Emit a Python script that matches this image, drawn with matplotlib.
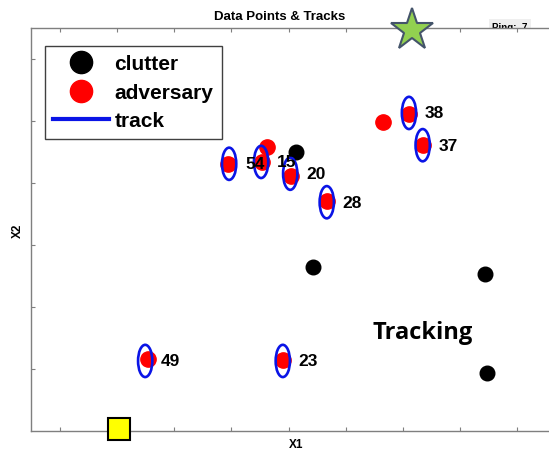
import numpy as np
import matplotlib.pyplot as plt
from matplotlib.patches import Ellipse
from matplotlib.lines import Line2D

# clutter points
clutter_x = [5.13, 5.43, 8.44, 8.47]
clutter_y = [4.50, 2.65, 2.53, 0.94]

# adversary points
adv_x = [3.94, 4.54, 4.62, 5.04, 5.67, 7.11, 7.35, 6.65, 2.54, 4.90]
adv_y = [4.31, 4.34, 4.58, 4.11, 3.71, 5.11, 4.61, 4.98, 1.16, 1.15]

# tracks
track_ids = ["54", "15", "20", "28", "38", "37", "49", "23"]
track_x = [3.96, 4.52, 5.03, 5.67, 7.11, 7.35, 2.49, 4.90]
track_y = [4.31, 4.34, 4.15, 3.69, 5.13, 4.61, 1.13, 1.13]

# own ship / target markers
star_x, star_y = 7.16, 6.47
square_x, square_y = 2.03, 0.03
ping = 7

plt.rcParams['font.family'] = ['Liberation Sans', 'DejaVu Sans']

fig = plt.figure(figsize=(5.49, 4.52), dpi=100)
ax = fig.add_axes([31/549, 20/452, 531/549, 403/452])
ax.set_xlim(0.49, 9.79)
ax.set_ylim(0, 6.5)

for s in ax.spines.values():
    s.set_color('#7f7f7f')
    s.set_linewidth(1.0)
ax.set_xticks(range(1, 10))
ax.set_yticks(range(1, 7))
ax.tick_params(direction='in', length=3, color='#7f7f7f', top=True, right=False,
               labelleft=False, labelbottom=False)

ax.plot(clutter_x, clutter_y, 'o', color='black', ms=10.5, zorder=3)
ax.plot(adv_x, adv_y, 'o', color='red', ms=11, zorder=3)

for tid, tx, ty in zip(track_ids, track_x, track_y):
    e = Ellipse((tx, ty), 0.25, 0.52, fill=False, edgecolor='#0a14e6', lw=1.9, zorder=4)
    ax.add_patch(e)
    ax.annotate(tid, (tx, ty), xytext=(11.5, 0), textcoords='offset points',
                ha='left', va='center', fontsize=12.5, fontweight='bold', zorder=5)

ax.plot(star_x, star_y, marker='*', ms=32, color='#92d050', mec='#44546a',
        mew=1.5, clip_on=False, zorder=6)
ax.plot(square_x, square_y, marker='s', ms=16, color='#ffff00', mec='black',
        mew=1.5, clip_on=False, zorder=6)

ax.text(7.35, 1.6, "Tracking", fontsize=17, fontweight='bold',
        family=['Open Sans', 'DejaVu Sans'], ha='center', va='center')

handles = [
    Line2D([], [], marker='o', color='black', ms=16, ls='none'),
    Line2D([], [], marker='o', color='red', ms=16, ls='none'),
    Line2D([], [], color='#0a14e6', lw=3),
]
leg = ax.legend(handles, ['clutter', 'adversary', 'track'], loc='upper left',
                bbox_to_anchor=(0.026, 0.955), borderaxespad=0, fancybox=False,
                framealpha=1, edgecolor='#404040', handlelength=2.7,
                handletextpad=0.25, borderpad=0.4, labelspacing=0.45,
                prop={'size': 15, 'weight': 'bold'})
leg.get_frame().set_linewidth(1.0)

ax.set_xlabel("X1", fontsize=8.5, fontweight='bold', labelpad=5)
ax.set_ylabel("X2", fontsize=8.5, fontweight='bold', labelpad=5)

fig.text(280/549, 1 - 17/452, "Data Points & Tracks", ha='center', va='center',
         fontsize=9.5, fontweight='bold')
fig.text(492/549, 1 - 28/452, f"Ping:  {ping}", ha='left', va='center',
         fontsize=7, fontweight='bold', zorder=-1,
         bbox=dict(facecolor='#efefef', edgecolor='none', pad=2.5))

fig.savefig("out.png", dpi=100)
